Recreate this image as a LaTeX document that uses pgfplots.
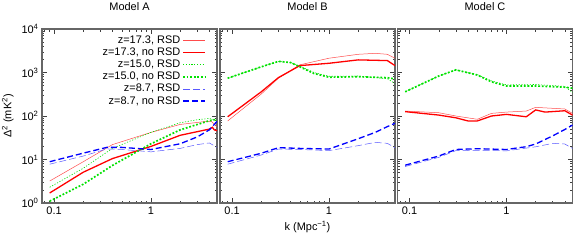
\documentclass[border=0pt]{standalone}
\usepackage{fontspec}
\setmainfont{Liberation Sans}
\usepackage{pgfplots}
\pgfplotsset{compat=1.18}
\definecolor{lime}{RGB}{0,225,0}
\tikzset{
  rsdA/.style={red!70, line width=0.5pt},
  nrsdA/.style={red, line width=1.3pt},
  rsdB/.style={lime, line width=0.6pt, dash pattern=on 1.2bp off 1.6bp},
  nrsdB/.style={lime, line width=1.7pt, dash pattern=on 1.8bp off 1.8bp},
  rsdC/.style={blue!65, line width=0.5pt, dash pattern=on 7bp off 3bp},
  nrsdC/.style={blue, line width=1.3pt, dash pattern=on 6bp off 3bp},
}
\pgfplotsset{
  legend image code/.code={\draw (0bp,0bp) -- (22bp,0bp);},
  scale only axis,
  width=175bp, height=174bp,
  xmin=0.075, xmax=4.8, ymin=1, ymax=10000,
  xtick={0.1,1}, xticklabels={0.1,1},
  minor xtick={0.08,0.09,0.2,0.3,0.4,0.5,0.6,0.7,0.8,0.9,2,3,4},
  ytick={1,10,100,1000,10000},
  minor ytick={2,3,4,5,6,7,8,9,20,30,40,50,60,70,80,90,200,300,400,500,600,700,800,900,2000,3000,4000,5000,6000,7000,8000,9000},
  tick align=inside,
  major tick length=5bp, minor tick length=2.5bp,
  axis line style={black!60, line width=1.1pt},
  tick style={black!75, line width=0.5pt},
  tick label style={font=\fontsize{11}{13}\selectfont},
  label style={font=\fontsize{11}{13}\selectfont},
  title style={font=\fontsize{11}{13}\selectfont, at={(0.5,1)}, anchor=base, yshift=13bp},
}
\begin{document}
\begin{tikzpicture}
\useasboundingbox (0,0) rectangle (586bp,245bp);
% ---------------- Model A
\begin{loglogaxis}[at={(42bp,42bp)}, anchor=south west,
  title={Model A},
  yticklabels={10\textsuperscript{0},10\textsuperscript{1},10\textsuperscript{2},10\textsuperscript{3},10\textsuperscript{4}},
  ylabel={Δ\textsuperscript{2} (mK\textsuperscript{2})},
  ylabel style={at={(axis description cs:-0.195,0.5)}, anchor=center},
  legend style={draw=none, fill=none, at={(0.955,0.985)}, anchor=north east,
    font=\fontsize{11}{12}\selectfont, row sep=-1bp},
  legend plot pos=right, legend cell align=right,
]
\addplot[rsdA] coordinates {(0.09,3.2) (0.2,8.9) (0.4,22) (1,42) (2,64) (3.5,74) (4.2,75) (4.8,57)};
\addlegendentry{z=17.3, RSD}
\addplot[nrsdA] coordinates {(0.09,1.7) (0.2,5.1) (0.4,10.5) (1,20) (2,36) (4,50) (4.3,55) (4.5,48) (4.8,46)};
\addlegendentry{z=17.3, no RSD}
\addplot[rsdB] coordinates {(0.09,2.3) (0.2,6.3) (0.4,18) (1,42) (2,70) (3,82) (4,88) (4.8,78)};
\addlegendentry{z=15.0, RSD}
\addplot[nrsdB] coordinates {(0.09,1.1) (0.2,2.7) (0.4,7.3) (1,23) (2,48) (4,78) (4.8,84)};
\addlegendentry{z=15.0, no RSD}
\addplot[rsdC] coordinates {(0.09,7.8) (0.2,12) (0.35,17.5) (0.5,17) (1,15) (2,18) (3,22) (4,24) (4.8,19)};
\addlegendentry{z=8.7, RSD}
\addplot[nrsdC] coordinates {(0.09,8.9) (0.2,14) (0.35,19) (0.5,19) (1,17) (2,23) (3,33) (4,48) (4.8,75)};
\addlegendentry{z=8.7, no RSD}
\end{loglogaxis}
% ---------------- Model B
\begin{loglogaxis}[at={(220bp,42bp)}, anchor=south west,
  title={Model B}, yticklabels={},
  xlabel={k (Mpc\textsuperscript{−1})},
  xlabel style={at={(axis description cs:0.5,0)}, anchor=base, yshift=-27bp},
]
\addplot[rsdA] coordinates {(0.09,77) (0.2,320) (0.3,740) (0.5,1500) (1,2130) (2,2620) (3,2760) (4,2620) (4.8,2130)};
\addplot[nrsdA] coordinates {(0.09,96) (0.2,360) (0.3,760) (0.5,1440) (1,1630) (2,1950) (4,1880) (4.8,1440)};
\addplot[rsdB] coordinates {(0.09,740) (0.2,1350) (0.3,1800) (0.4,1700) (0.5,1400) (0.7,1000) (1,820) (2,830) (4,720) (4.8,560)};
\addplot[nrsdB] coordinates {(0.09,740) (0.2,1350) (0.3,1800) (0.4,1700) (0.5,1350) (0.7,950) (1,780) (2,800) (4,760) (4.8,710)};
\addplot[rsdC] coordinates {(0.09,7.8) (0.2,12.7) (0.3,17.4) (0.5,17) (1,16) (2,20.8) (3,24.8) (4,23.5) (4.8,18.7)};
\addplot[nrsdC] coordinates {(0.09,8.9) (0.2,13.9) (0.3,18.7) (0.5,18) (1,17.4) (2,30) (3,42) (4,57) (4.8,68)};
\end{loglogaxis}
% ---------------- Model C
\begin{loglogaxis}[at={(397.5bp,42bp)}, anchor=south west,
  title={Model C}, yticklabels={},
]
\addplot[rsdA] coordinates {(0.09,130) (0.2,119) (0.3,100) (0.5,84) (0.7,115) (1,123) (1.6,130) (2,158) (4,145) (4.8,115)};
\addplot[nrsdA] coordinates {(0.09,126) (0.2,105) (0.3,91) (0.4,77) (0.5,77) (0.7,100) (1,109) (1.6,96) (2,138) (2.5,123) (4,132) (4.8,105)};
\addplot[rsdB] coordinates {(0.09,360) (0.2,830) (0.3,1150) (0.5,900) (0.7,640) (1,520) (2,530) (4,480) (4.8,345)};
\addplot[nrsdB] coordinates {(0.09,360) (0.2,830) (0.3,1150) (0.5,875) (0.7,610) (1,490) (2,490) (4,460) (4.8,435)};
\addplot[rsdC] coordinates {(0.09,6.9) (0.2,11.2) (0.3,16) (0.5,16.2) (1,15.8) (2,19.6) (3,23.5) (4,22.7) (4.8,18)};
\addplot[nrsdC] coordinates {(0.09,7.4) (0.2,12) (0.3,17) (0.5,17.7) (1,17) (1.6,19.7) (2,22.7) (3,35) (4,49) (4.8,62)};
\end{loglogaxis}
\end{tikzpicture}
\end{document}
